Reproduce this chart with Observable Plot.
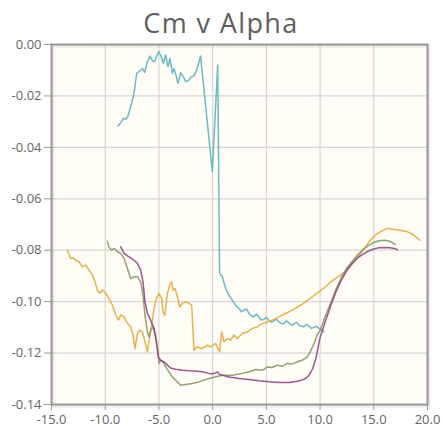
<!DOCTYPE html>
<html><head><meta charset="utf-8">
<script src="https://cdn.jsdelivr.net/npm/d3@7"></script>
<script src="https://cdn.jsdelivr.net/npm/@observablehq/plot@0.6"></script>
<style>
body{margin:0;background:#fff;}
#title{height:28px;width:442px;text-align:center;font-family:"Open Sans",sans-serif;font-size:27px;letter-spacing:1.4px;color:#5e5e5e;line-height:46px;white-space:nowrap;position:relative;z-index:1;}
#chart svg{display:block;}
</style></head><body>
<div id="title">Cm v Alpha</div>
<div id="chart"></div>
<script>
const seriesNames = ["Series 1", "Series 2", "Series 3", "Series 4"];
const xTicks = [-15, -10, -5, 0, 5, 10, 15, 20];
const yTicks = [0, -0.02, -0.04, -0.06, -0.08, -0.10, -0.12, -0.14];

const tealAlpha = [-8.81,-8.56,-8.31,-8.09,-7.88,-7.63,-7.32,-7.07,-6.76,-6.54,-6.33,-6.07,-5.83,-5.61,-5.40,-5.21,-5.00,-4.77,-4.59,-4.37,-4.16,-3.97,-3.75,-3.60,-3.41,-3.23,-2.98,-2.73,-2.51,-2.20,-1.98,-1.74,-1.49,-1.12,-0.03,0.47,0.65,0.90,1.21,1.52,1.83,2.14,2.45,2.68,2.91,3.15,3.38,3.60,3.84,4.07,4.31,4.54,4.77,5.00,5.24,5.47,5.70,5.93,6.17,6.40,6.63,6.86,7.10,7.33,7.56,7.80,8.03,8.26,8.49,8.72,8.96,9.19,9.42,9.65,9.89,10.10,10.35];
const tealCm = [-0.0317,-0.0304,-0.0287,-0.0291,-0.0278,-0.0242,-0.0190,-0.0112,-0.0102,-0.0093,-0.0108,-0.0067,-0.0045,-0.0063,-0.0067,-0.0045,-0.0028,-0.0050,-0.0073,-0.0041,-0.0086,-0.0054,-0.0112,-0.0093,-0.0119,-0.0151,-0.0110,-0.0125,-0.0145,-0.0138,-0.0125,-0.0123,-0.0099,-0.0045,-0.0495,-0.0080,-0.0889,-0.0903,-0.0949,-0.0975,-0.0994,-0.1014,-0.1026,-0.1040,-0.1033,-0.1028,-0.1046,-0.1055,-0.1059,-0.1048,-0.1061,-0.1072,-0.1069,-0.1062,-0.1072,-0.1080,-0.1075,-0.1068,-0.1079,-0.1086,-0.1085,-0.1075,-0.1082,-0.1091,-0.1088,-0.1080,-0.1091,-0.1096,-0.1098,-0.1088,-0.1095,-0.1104,-0.1100,-0.1096,-0.1104,-0.1109,-0.1117];

const orangeAlpha = [-13.52,-13.21,-13.00,-12.74,-12.44,-12.12,-11.81,-11.51,-11.19,-10.95,-10.73,-10.51,-10.26,-9.95,-9.65,-9.33,-9.02,-8.77,-8.56,-8.25,-7.93,-7.63,-7.41,-7.23,-7.00,-6.79,-6.54,-6.30,-6.07,-5.93,-5.67,-5.46,-5.24,-5.00,-4.74,-4.62,-4.44,-4.21,-4.00,-3.81,-3.69,-3.51,-3.28,-3.07,-2.82,-2.51,-2.20,-1.95,-1.74,-1.42,-1.12,-0.81,-0.49,-0.19,0.28,0.65,0.84,1.05,1.37,1.67,1.98,2.30,2.76,3.23,3.69,4.16,4.62,5.09,5.55,6.17,6.79,7.41,8.03,8.65,9.28,9.89,10.51,10.98,11.91,12.68,13.30,13.77,14.23,14.70,15.16,15.63,16.25,16.87,17.49,18.11,18.73,19.28];
const orangeCm = [-0.0800,-0.0832,-0.0830,-0.0839,-0.0845,-0.0865,-0.0858,-0.0877,-0.0897,-0.0923,-0.0955,-0.0968,-0.0955,-0.0968,-0.0988,-0.1014,-0.1052,-0.1072,-0.1052,-0.1059,-0.1085,-0.1098,-0.1130,-0.1182,-0.1124,-0.1111,-0.1117,-0.1156,-0.1195,-0.1156,-0.1091,-0.1026,-0.0988,-0.0968,-0.0988,-0.1040,-0.1053,-0.0968,-0.0936,-0.0923,-0.0955,-0.0949,-0.0981,-0.1020,-0.1007,-0.1001,-0.1007,-0.1014,-0.1189,-0.1176,-0.1182,-0.1178,-0.1169,-0.1176,-0.1163,-0.1195,-0.1118,-0.1156,-0.1143,-0.1150,-0.1130,-0.1143,-0.1124,-0.1118,-0.1104,-0.1098,-0.1085,-0.1079,-0.1072,-0.1059,-0.1046,-0.1033,-0.1018,-0.1001,-0.0981,-0.0962,-0.0942,-0.0923,-0.0897,-0.0871,-0.0838,-0.0812,-0.0786,-0.0761,-0.0741,-0.0728,-0.0715,-0.0719,-0.0722,-0.0728,-0.0741,-0.0761];

const greenAlpha = [-9.80,-9.65,-9.40,-9.18,-8.87,-8.56,-8.25,-7.93,-7.63,-7.32,-7.00,-6.70,-6.48,-6.30,-6.07,-5.93,-5.77,-5.55,-5.30,-5.14,-5.00,-4.84,-4.62,-4.37,-4.07,-3.75,-3.28,-2.98,-2.51,-1.89,-1.27,-0.34,0.90,1.83,2.76,3.38,4.00,4.62,5.09,5.55,6.02,6.49,6.95,7.41,7.88,8.34,8.81,9.12,9.42,9.75,10.05,10.50,11.00,11.50,12.00,12.50,13.00,13.50,14.00,14.50,15.00,15.50,16.00,16.50,17.00];
const greenCm = [-0.0765,-0.0787,-0.0800,-0.0793,-0.0806,-0.0812,-0.0832,-0.0871,-0.0910,-0.0903,-0.0903,-0.0923,-0.0975,-0.1053,-0.1118,-0.1137,-0.1111,-0.1098,-0.1130,-0.1182,-0.1240,-0.1228,-0.1234,-0.1254,-0.1273,-0.1293,-0.1312,-0.1325,-0.1322,-0.1318,-0.1312,-0.1299,-0.1286,-0.1286,-0.1279,-0.1273,-0.1264,-0.1267,-0.1254,-0.1256,-0.1247,-0.1251,-0.1240,-0.1243,-0.1234,-0.1228,-0.1215,-0.1192,-0.1165,-0.1128,-0.1108,-0.1055,-0.1003,-0.0950,-0.0905,-0.0868,-0.0843,-0.0818,-0.0798,-0.0782,-0.0770,-0.0763,-0.0761,-0.0765,-0.0778];

const purpleAlpha = [-8.56,-8.25,-7.93,-7.63,-7.32,-7.00,-6.70,-6.48,-6.30,-6.07,-5.77,-5.46,-5.24,-5.05,-4.84,-4.53,-4.21,-3.91,-3.44,-2.82,-2.20,-1.58,-0.96,-0.34,0.09,0.44,0.60,0.90,1.52,2.45,3.38,4.31,5.24,6.17,7.10,8.03,8.65,9.00,9.30,9.60,10.00,10.50,11.00,11.50,12.00,12.50,13.00,13.50,14.00,14.50,15.00,15.50,16.00,16.50,17.00,17.20];
const purpleCm = [-0.0787,-0.0812,-0.0822,-0.0830,-0.0839,-0.0851,-0.0877,-0.0923,-0.1001,-0.1046,-0.1072,-0.1104,-0.1156,-0.1215,-0.1228,-0.1234,-0.1247,-0.1258,-0.1263,-0.1267,-0.1269,-0.1270,-0.1273,-0.1279,-0.1280,-0.1273,-0.1282,-0.1286,-0.1293,-0.1299,-0.1303,-0.1308,-0.1312,-0.1314,-0.1314,-0.1309,-0.1299,-0.1285,-0.1262,-0.1222,-0.1140,-0.1075,-0.1015,-0.0960,-0.0915,-0.0878,-0.0850,-0.0830,-0.0815,-0.0803,-0.0795,-0.0790,-0.0789,-0.0790,-0.0794,-0.0798];

const seriesData = [[tealAlpha, tealCm], [orangeAlpha, orangeCm], [greenAlpha, greenCm], [purpleAlpha, purpleCm]];
const rows = [];
seriesData.forEach(([a, c], i) => a.forEach((x, j) => rows.push({series: seriesNames[i], alpha: x, cm: c[j]})));

const chart = Plot.plot({
  width: 442, height: 407,
  marginTop: 16, marginBottom: 31, marginLeft: 51, marginRight: 15,
  style: {fontFamily: "'Open Sans', sans-serif", fontSize: "13px", color: "#666", background: "transparent"},
  x: {domain: [-15, 20], label: null},
  y: {domain: [-0.14, 0], label: null},
  color: {domain: seriesNames, range: ["#5ab4c0", "#e6a83a", "#849a62", "#914585"]},
  marks: [
    Plot.frame({fill: "#fffdf6", stroke: null}),
    Plot.gridX(xTicks, {stroke: "#d6d6d6", strokeOpacity: 1, strokeWidth: 1.2}),
    Plot.gridY(yTicks, {stroke: "#d6d6d6", strokeOpacity: 1, strokeWidth: 1.2}),
    Plot.line(rows, {x: "alpha", y: "cm", z: "series", stroke: "series", strokeWidth: 1.5, strokeOpacity: 0.9}),
    Plot.frame({stroke: "#000", strokeOpacity: 0.08, strokeWidth: 3, dx: 1.5, dy: 1.5}),
    Plot.frame({stroke: "#999", strokeWidth: 2}),
    Plot.axisX(xTicks, {label: null, tickFormat: d => d.toFixed(1), tickSize: 6, tickPadding: 4, stroke: "#999", fill: "#666"}),
    Plot.axisY(yTicks, {label: null, tickFormat: d => d.toFixed(2), tickSize: 7, tickPadding: 3, stroke: "#999", fill: "#666"})
  ]
});
document.getElementById("chart").appendChild(chart);
</script></body></html>
